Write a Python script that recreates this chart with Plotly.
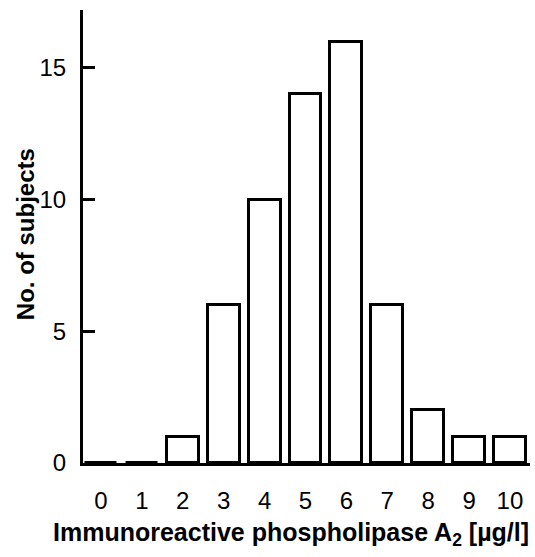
import plotly.graph_objects as go

categories = [0, 1, 2, 3, 4, 5, 6, 7, 8, 9, 10]
counts = [0, 0, 1, 6, 10, 14, 16, 6, 2, 1, 1]
x_tick_labels = ["0", "1", "2", "3", "4", "5", "6", "7", "8", "9", "10"]
y_tick_vals = [0, 5, 10, 15]

FONT = "Liberation Sans"

fig = go.Figure()
fig.add_trace(go.Bar(
    x=categories, y=counts, width=0.78,
    marker=dict(color="white", line=dict(color="black", width=3)),
    showlegend=False, hoverinfo="skip",
))

fig.update_layout(
    width=535, height=557,
    margin=dict(l=83, r=5, t=10, b=94),
    paper_bgcolor="white", plot_bgcolor="white",
    font=dict(family=FONT, size=24, color="black"),
    bargap=0,
    xaxis=dict(
        range=[-0.44, 10.49],
        tickvals=categories, ticktext=x_tick_labels,
        showgrid=False, zeroline=False, automargin=False,
        showline=True, linecolor="black", linewidth=3,
        ticks="", ticklabelstandoff=14,
        tickfont=dict(size=24),
    ),
    yaxis=dict(
        range=[0, 17.2],
        tickvals=y_tick_vals,
        showgrid=False, zeroline=False, automargin=False,
        showline=True, linecolor="black", linewidth=3,
        ticks="inside", ticklen=12, tickwidth=3, tickcolor="black",
        ticklabelstandoff=9,
        tickfont=dict(size=24),
    ),
    annotations=[
        dict(
            text="<b>Immunoreactive phospholipase A<sub>2</sub> [µg/l]</b>",
            xref="paper", yref="paper", x=0.465, y=-0.157,
            xanchor="center", yanchor="middle", showarrow=False,
            font=dict(size=25),
        ),
        dict(
            text="<b>No. of subjects</b>",
            xref="paper", yref="paper", x=-0.13, y=0.505, textangle=-90,
            xanchor="center", yanchor="middle", showarrow=False,
            font=dict(size=24),
        ),
    ],
)

fig.write_html("out.html", config={"displayModeBar": False},
               post_script="document.body.style.margin='0';")
